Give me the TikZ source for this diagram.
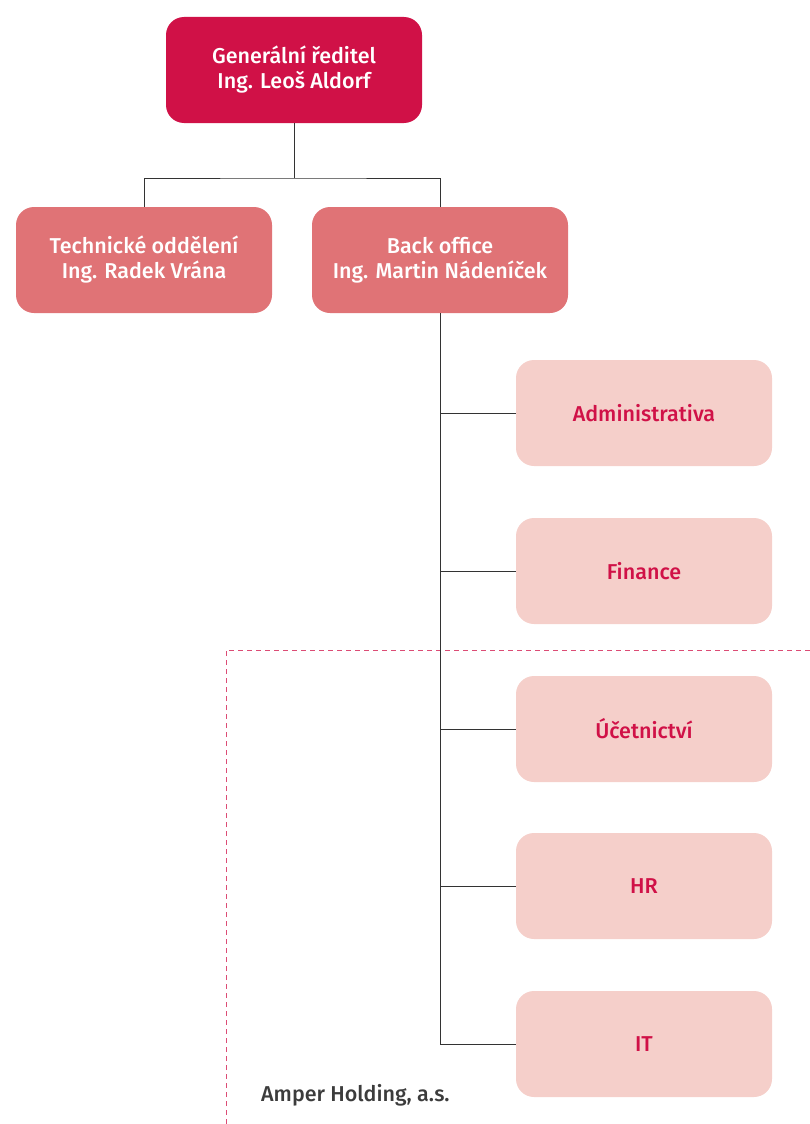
\documentclass[tikz,border=0pt]{standalone}
\usepackage{fontspec}
\setmainfont{Fira Sans}[UprightFont=* Medium]
\usetikzlibrary{positioning}

\definecolor{crimson}{HTML}{D01147}
\definecolor{salmon}{HTML}{E07376}
\definecolor{blush}{HTML}{F5CFCA}
\definecolor{wire}{HTML}{333333}
\definecolor{caption}{HTML}{3C3C3C}

\def\boxw{256}
\def\boxh{106}

\tikzset{
  orgbox/.style={rounded corners=18pt, minimum width=\boxw pt, minimum height=\boxh pt,
    align=center, inner sep=0pt, font=\fontsize{21.5}{25}\selectfont},
  headbox/.style={orgbox, fill=crimson, text=white},
  deptbox/.style={orgbox, fill=salmon, text=white},
  unitbox/.style={orgbox, fill=blush, text=crimson},
  wireline/.style={draw=wire, line width=0.9pt},
  holding/.style={draw=crimson!75, line width=1pt, dash pattern=on 5pt off 4pt}
}

\begin{document}
\begin{tikzpicture}[x=1pt, y=-1pt]
 \useasboundingbox (0,0) rectangle (810,1124);
 % Holding border
 \coordinate (holdbottom) at (226,1124);
 \coordinate (holdright) at (810,650);
 \draw[holding] (holdbottom) |- (holdright);
 % Management
 \node[headbox] (gr) at (294,70) {Generální ředitel\\Ing. Leoš Aldorf};
 \node[deptbox] (tech) at (144,260) {Technické oddělení\\Ing. Radek Vrána};
 \node[deptbox] (bo) at (440,260) {Back office\\Ing. Martin Nádeníček};
 \coordinate (split) at (294,178);
 \draw[wireline] (gr.south) -- (split);
 \draw[wireline] (tech.north) |- (split) -| (bo.north);
 % Back office units
 \foreach \name/\y/\txt in {adm/413/Administrativa, fin/571/Finance,
   uct/729/Účetnictví, hr/886/HR, it/1044/IT}
 {
  \node[unitbox] (\name) at (644,\y) {\txt};
  \draw[wireline] (bo.south) |- (\name.west);
 }
 % Company name
 \node[anchor=west, text=caption, font=\fontsize{21.5}{25}\selectfont, inner sep=0pt]
  (amper) at (261,1095) {Amper Holding, a.s.};
\end{tikzpicture}
\end{document}
